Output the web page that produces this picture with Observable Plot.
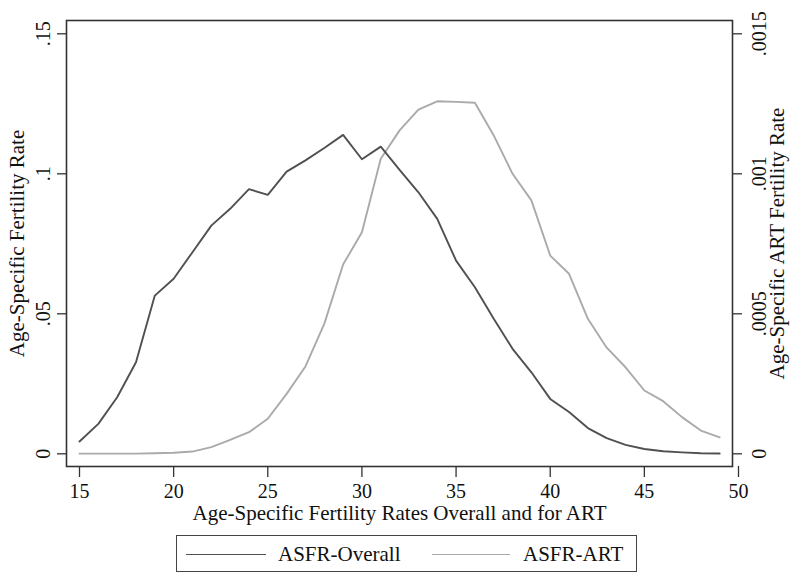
<!DOCTYPE html>
<html>
<head>
<meta charset="utf-8">
<script src="https://cdn.jsdelivr.net/npm/d3@7"></script>
<script src="https://cdn.jsdelivr.net/npm/@observablehq/plot@0.6"></script>
<style>
  body { margin: 0; background: #fff; }
  #wrap { position: relative; width: 800px; height: 585px; font-family: "Liberation Serif", "Times New Roman", serif; }
  #legend { position: absolute; left: 176px; top: 535px; width: 461px; height: 37px; border: 1px solid #444; box-sizing: border-box; }
  .sw { position: absolute; height: 0; top: 18px; width: 80px; }
  .lt { position: absolute; top: 6px; font-size: 21px; line-height: 24px; color: #111; white-space: nowrap; }
</style>
</head>
<body>
<div id="wrap">
  <div id="chart"></div>
  <div id="legend">
    <div class="sw" style="left:9px;border-top:1.8px solid #505050;"></div>
    <div class="lt" style="left:101px;">ASFR-Overall</div>
    <div class="sw" style="left:255px;width:78px;border-top:1.8px solid #aaa;"></div>
    <div class="lt" style="left:346px;">ASFR-ART</div>
  </div>
</div>
<script>
const ages = d3.range(15, 50);
const asfrOverall = [0.0044, 0.0107, 0.0202, 0.0327, 0.0565, 0.0625, 0.0720, 0.0815, 0.0875, 0.0945,
  0.0925, 0.1008, 0.1048, 0.1092, 0.1139, 0.1052, 0.1097, 0.1014, 0.0934, 0.0839,
  0.0690, 0.0595, 0.0482, 0.0375, 0.0291, 0.0196, 0.0149, 0.0092, 0.0056, 0.0032,
  0.0017, 0.0009, 0.0005, 0.0002, 0.0001];
const asfrART = [0.0000005, 0.0000005, 0.0000005, 0.0000005, 0.000002, 0.000004, 0.000008, 0.000024, 0.00005, 0.000077,
  0.000125, 0.000214, 0.000312, 0.000464, 0.000676, 0.000791, 0.001054, 0.001155, 0.001229, 0.001259,
  0.001257, 0.001254, 0.001137, 0.001000, 0.000905, 0.000708, 0.000643, 0.000482, 0.000379, 0.000309,
  0.000226, 0.000188, 0.000131, 0.000083, 0.000059];
const xTicks = [15, 20, 25, 30, 35, 40, 45, 50];
const yTicksLeft = [0, 0.05, 0.1, 0.15];
const yLabelsLeft = ["0", ".05", ".1", ".15"];
const yTicksRight = [0, 0.0005, 0.001, 0.0015];
const yLabelsRight = ["0", ".0005", ".001", ".0015"];
const artScale = 100; // right axis maps onto left axis domain

const overall = ages.map((a, i) => ({age: a, v: asfrOverall[i]}));
const art = ages.map((a, i) => ({age: a, v: asfrART[i] * artScale}));
const leftLab = yTicksLeft.map((t, i) => ({t, s: yLabelsLeft[i]}));
const rightLab = yTicksRight.map((t, i) => ({t: t * artScale, s: yLabelsRight[i]}));

const font = "Liberation Serif, Times New Roman, serif";
const ink = "#333";
const blank = () => "";

const chart = Plot.plot({
  width: 800,
  height: 530,
  marginLeft: 66,
  marginRight: 68,
  marginTop: 20,
  marginBottom: 64,
  style: {fontFamily: font, background: "#fff", color: "#111"},
  x: {domain: [15, 50], insetLeft: 13, insetRight: -6},
  y: {domain: [0, 0.15], insetTop: 13.3, insetBottom: 12.7},
  marks: [
    Plot.frame({stroke: ink, strokeWidth: 1.6}),
    Plot.axisX({ticks: xTicks, tickSize: 11, tickFormat: blank, label: null, stroke: ink, strokeWidth: 1.3}),
    Plot.axisY({anchor: "left", ticks: yTicksLeft, tickSize: 9, tickFormat: blank, label: null, stroke: ink, strokeWidth: 1.3}),
    Plot.axisY({anchor: "right", ticks: yTicksRight.map(t => t * artScale), tickSize: 9, tickFormat: blank, label: null, stroke: ink, strokeWidth: 1.3}),
    Plot.text(xTicks, {x: d => d, text: d => String(d), frameAnchor: "bottom", dy: 25, fontSize: 20, lineAnchor: "middle", fill: "#111"}),
    Plot.text(leftLab, {y: "t", text: "s", frameAnchor: "left", dx: -22.5, rotate: -90, fontSize: 20, lineAnchor: "middle", textAnchor: "middle", fill: "#111"}),
    Plot.text(rightLab, {y: "t", text: "s", frameAnchor: "right", dx: 27, rotate: -90, fontSize: 20, lineAnchor: "middle", textAnchor: "middle", fill: "#111"}),
    Plot.text(["Age-Specific Fertility Rate"], {frameAnchor: "left", dx: -49, rotate: -90, fontSize: 21, lineAnchor: "middle", textAnchor: "middle", fill: "#111"}),
    Plot.text(["Age-Specific ART Fertility Rate"], {frameAnchor: "right", dx: 45, rotate: -90, fontSize: 21, lineAnchor: "middle", textAnchor: "middle", fill: "#111"}),
    Plot.text(["Age-Specific Fertility Rates Overall and for ART"], {frameAnchor: "bottom", dy: 46.5, fontSize: 21, lineAnchor: "middle", textAnchor: "middle", fill: "#111"}),
    Plot.line(art, {x: "age", y: "v", stroke: "#aaa", strokeWidth: 1.9}),
    Plot.line(overall, {x: "age", y: "v", stroke: "#505050", strokeWidth: 1.9})
  ]
});
document.getElementById("chart").appendChild(chart);
</script>
</body>
</html>
